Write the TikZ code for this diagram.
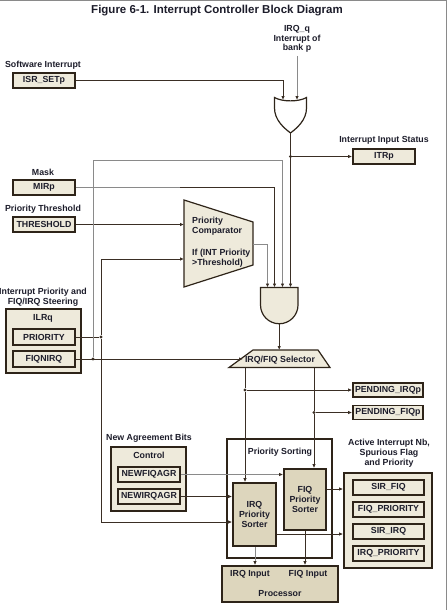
\documentclass[tikz,border=0pt]{standalone}
\usepackage{fontspec}
\setmainfont{Liberation Sans}
\usetikzlibrary{arrows.meta,calc}
\definecolor{bfill}{HTML}{EEEADB}
\definecolor{dfill}{HTML}{DDD6BD}
\definecolor{bdr}{HTML}{2E2419}
\definecolor{ln}{HTML}{3A2E24}
\definecolor{gl}{HTML}{8A8A8A}
\definecolor{txt}{HTML}{1C1C2A}
\tikzset{
  reg/.style={draw=bdr, line width=1.8pt, fill=bfill, minimum width=62pt, minimum height=15pt, inner sep=0pt, font=\bfseries\fontsize{8.8}{9.8}\selectfont, text=txt},
  cont/.style={draw=bdr, line width=1.8pt, fill=bfill, inner sep=0pt},
  sorter/.style={draw=bdr, line width=1.8pt, fill=dfill, inner sep=0pt, align=center, font=\bfseries\fontsize{8.8}{10}\selectfont, text=txt},
  lbl/.style={font=\bfseries\fontsize{8.8}{9.8}\selectfont, text=txt, align=center, inner sep=0pt},
  wire/.style={draw=ln, line width=0.8pt, -{Latex[length=4pt,width=3.5pt]}},
  gwire/.style={draw=gl, line width=0.8pt, -{Latex[length=4pt,width=3.5pt,fill=ln,color=ln]}},
  plain/.style={draw=ln, line width=0.8pt},
  gplain/.style={draw=gl, line width=0.8pt},
  jdot/.style={circle, fill=ln, inner sep=0pt, minimum size=3.4pt},
  gate/.style={draw=bdr, line width=1.2pt}
}
\begin{document}
\begin{tikzpicture}[x=1pt,y=-1pt]
\useasboundingbox (0,0) rectangle (447,610);
\draw[gl, line width=1pt] (0,0.5) -- (447,0.5);
\draw[gl, line width=0.8pt] (446.3,0) -- (446.3,610);

% title
\node[font=\bfseries\fontsize{11.5}{13}\selectfont, text=txt] (title) at (217,11) {Figure 6-1. Interrupt Controller Block Diagram};

% labels
\node[lbl] (lsw) at (43,65) {Software Interrupt};
\node[lbl] (lmask) at (43,172) {Mask};
\node[lbl] (lthr) at (43,209) {Priority Threshold};
\node[lbl] (lilr) at (43,297) {Interrupt Priority and\\FIQ/IRQ Steering};
\node[lbl] (litr) at (384,140) {Interrupt Input Status};
\node[lbl] (lirq) at (297,39) {IRQ\_q\\Interrupt of\\bank p};
\node[lbl] (lnab) at (149,438) {New Agreement Bits};
\node[lbl] (lact) at (389,453.5) {Active Interrupt Nb,\\Spurious Flag\\and Priority};

% register boxes
\node[reg] (isr) at (44,80.5) {ISR\_SETp};
\node[reg] (mir) at (44,187.5) {MIRp};
\node[reg] (thr) at (44,224.5) {THRESHOLD};
\node[reg] (itr) at (384,156.5) {ITRp};

\node[cont, minimum width=75pt, minimum height=64pt] (ilr) at (43.5,341) {};
\node[lbl] (lilrq) at (43,318) {ILRq};
\node[reg, minimum height=16pt] (pri) at (44,337) {PRIORITY};
\node[reg, minimum height=16pt] (fiq) at (44,359) {FIQNIRQ};

\node[reg, minimum width=70pt, minimum height=14pt] (pirq) at (388,390) {PENDING\_IRQp};
\node[reg, minimum width=70pt, minimum height=14pt] (pfiq) at (388,412.5) {PENDING\_FIQp};

\node[cont, minimum width=75pt, minimum height=64pt] (ctl) at (148.5,479) {};
\node[lbl] (lctl) at (149,455) {Control};
\node[reg] (nfa) at (149,474.5) {NEWFIQAGR};
\node[reg] (nia) at (149,496.5) {NEWIRQAGR};

\node[draw=bdr, line width=1.8pt, fill=white, minimum width=105pt, minimum height=119pt, inner sep=0pt] (sort) at (279.5,498.5) {};
\node[lbl] (lsort) at (280,452) {Priority Sorting};
\node[sorter, minimum width=43pt, minimum height=63pt] (irqs) at (254.5,514.5) {IRQ\\Priority\\Sorter};
\node[sorter, minimum width=42pt, minimum height=61pt] (fiqs) at (305,499.5) {FIQ\\Priority\\Sorter};

\node[draw=bdr, line width=1.8pt, fill=dfill, minimum width=116pt, minimum height=36pt, inner sep=0pt] (proc) at (280,584) {};
\node[lbl] (lirqin) at (250,574) {IRQ Input};
\node[lbl] (lfiqin) at (308,574) {FIQ Input};
\node[lbl] (lproc) at (280,594) {Processor};

\node[cont, minimum width=88pt, minimum height=95pt] (act) at (388,520.5) {};
\node[reg, minimum width=71pt] (sirfiq) at (388.5,487.5) {SIR\_FIQ};
\node[reg, minimum width=71pt] (fiqpri) at (388.5,509.5) {FIQ\_PRIORITY};
\node[reg, minimum width=71pt] (sirirq) at (388.5,531.5) {SIR\_IRQ};
\node[reg, minimum width=71pt] (irqpri) at (388.5,553.5) {IRQ\_PRIORITY};

% OR gate
\draw[gate, fill=white] (274.5,97.5) -- (274.5,108) .. controls (274.5,120) and (284,128) .. (290.5,133)
  .. controls (297,128) and (306.5,120) .. (306.5,108) -- (306.5,97.5)
  .. controls (299,102) and (282,102) .. cycle;
\coordinate (orA) at (283,100);
\coordinate (orB) at (297,100);
\coordinate (orOut) at (290.5,133);

% AND gate
\draw[gate, fill=bfill] (260.5,287.5) -- (260.5,305) arc[start angle=180, end angle=0, radius=18.75] -- (298,287.5) -- cycle;
\coordinate (andOut) at (279.2,323.8);

% Comparator
\draw[gate, fill=bfill] (184,200) -- (253,222) -- (253,265) -- (184,287) -- cycle;
\coordinate (cmpOut) at (253,244);
\node[lbl, align=left, anchor=north west] (cmpt1) at (192,217) {Priority\\Comparator};
\node[lbl, align=left, anchor=north west] (cmpt2) at (192,249) {If (INT Priority\\>Threshold)};

% Selector
\draw[gate, fill=bfill] (253,350) -- (318,350) -- (330,367.5) -- (229,367.5) -- cycle;
\node[lbl] (lsel) at (280,360) {IRQ/FIQ Selector};
\coordinate (selL) at (245,367.5);
\coordinate (selR) at (314,367.5);

% junction dots
\node[jdot] (d1) at (290.5,156.5) {};
\node[jdot] (d2) at (101,337) {};
\node[jdot] (d3) at (93,359) {};
\node[jdot] (d4) at (245,390) {};
\node[jdot] (d5) at (314,412.5) {};

% wires
\draw[wire] (isr.east) -| (orA);
\draw[gwire] (lirq.south) ++(0,3) -- (orB);
\draw[plain] (orOut) -- (d1);
\draw[wire] (d1) -- (290.5,287.5);
\draw[wire] (d1) -- (itr.west);
\draw[wire] (mir.east) -| (274.5,287.5);
\draw[gplain] (mir.east) -- (180,187.5);
\draw[wire] (thr.east) -- (184,224.5);
\draw[gwire] (cmpOut) -| (267.5,287.5);

\draw[plain] (pri.east) -- (d2);
\draw[wire] (d2) |- (184,259);
\draw[wire] (d2) |- (irqs.west |- 0,522);
\draw[wire] (fiq.east) -- (243,359);
\draw[gwire] (d3) |- (282.5,160) -- (282.5,287.5);

\draw[wire] (andOut) -- (279.2,350);
\draw[plain] (selL) -- (d4);
\draw[wire] (d4) -- (irqs.north -| selL);
\draw[wire] (d4) -- (pirq.west);
\draw[plain] (selR) -- (d5);
\draw[wire] (d5) -- (fiqs.north -| selR);
\draw[wire] (d5) -- (pfiq.west);

\draw[gwire] (nfa.east) -- (fiqs.west |- nfa.east);
\draw[wire] (nia.east) -- (irqs.west |- nia.east);
\draw[wire] (fiqs.east |- 0,489) -- (act.west |- 0,489);
\draw[wire] (irqs.east |- 0,534) -- (act.west |- 0,534);
\draw[gwire] (irqs.south -| 255,0) -- (proc.north -| 255,0);
\draw[wire] (fiqs.south -| 305,0) -- (proc.north -| 305,0);
\end{tikzpicture}
\end{document}
